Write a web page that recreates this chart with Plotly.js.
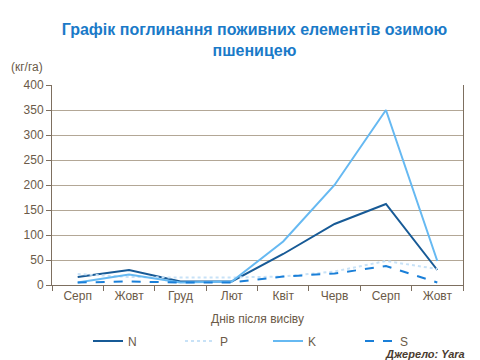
<!DOCTYPE html>
<html>
<head>
<meta charset="utf-8">
<script src="https://cdn.plot.ly/plotly-3.0.1.min.js"></script>
<style>html,body{margin:0;padding:0;background:#fff;}#chart{width:480px;height:360px;}</style>
</head>
<body>
<div id="chart"></div>
<script>
const months = ["Серп", "Жовт", "Груд", "Лют", "Квіт", "Черв", "Серп", "Жовт"];
const nValues = [16, 30, 7, 7, 62, 122, 162, 30];
const pValues = [22, 16, 15, 15, 17, 27, 48, 32];
const kValues = [5, 21, 5, 7, 87, 200, 350, 48];
const sValues = [5, 7, 5, 5, 17, 23, 38, 5];
const yTicks = [0, 50, 100, 150, 200, 250, 300, 350, 400];

const idx = months.map((m, i) => i);
const brown = '#6b5a48';
const font = 'Liberation Sans, Arial, sans-serif';

const traces = [
  {name: 'N', legend: 'legend', y: nValues, line: {color: '#175a96', width: 2, dash: 'solid'}},
  {name: 'P', legend: 'legend2', y: pValues, line: {color: '#c8e2f7', width: 2, dash: 'dot'}},
  {name: 'K', legend: 'legend3', y: kValues, line: {color: '#66b9f2', width: 2, dash: 'solid'}},
  {name: 'S', legend: 'legend4', y: sValues, line: {color: '#1a7fd8', width: 2, dash: 'dash'}}
].map(t => Object.assign({x: idx, type: 'scatter', mode: 'lines', hoverinfo: 'skip'}, t));

function leg(px) {
  return {
    orientation: 'h', x: px / 480, xanchor: 'left', xref: 'container',
    y: 0.053, yanchor: 'middle', yref: 'container',
    font: {size: 12, color: brown}, bgcolor: 'rgba(0,0,0,0)'
  };
}

const layout = {
  width: 480, height: 360,
  margin: {l: 52, r: 17, t: 85, b: 75, autoexpand: false},
  paper_bgcolor: '#fff', plot_bgcolor: '#fff',
  font: {family: font, size: 12, color: brown},
  title: {
    text: 'Графік поглинання поживних елементів озимою<br>пшеницею',
    font: {family: font, size: 16, color: '#1a7ac8', weight: 'bold'},
    x: 0.53, xanchor: 'center', y: 0.902, yanchor: 'top'
  },
  xaxis: {
    range: [-0.5, 7.5],
    tickmode: 'array', tickvals: idx, ticktext: months,
    ticks: '', showgrid: false, zeroline: false,
    showline: true, linecolor: '#7d6f60', linewidth: 1,
    minor: {ticks: 'outside', tick0: -0.5, dtick: 1, ticklen: 5, tickcolor: '#7d6f60', showgrid: false},
    tickfont: {size: 12, color: brown},
    title: {text: 'Днів після висіву', font: {size: 12, color: brown}, standoff: 14},
    fixedrange: true
  },
  yaxis: {
    range: [0, 400],
    tickmode: 'array', tickvals: yTicks,
    ticks: 'outside', ticklen: 5, tickcolor: '#7d6f60',
    showgrid: true, gridcolor: '#b3a796', gridwidth: 1,
    zeroline: false,
    showline: true, linecolor: '#7d6f60', linewidth: 1, mirror: true,
    tickfont: {size: 12, color: brown},
    fixedrange: true
  },
  showlegend: true,
  legend: leg(88),
  legend2: leg(180),
  legend3: leg(268),
  legend4: leg(360),
  annotations: [
    {text: '(кг/га)', xref: 'paper', yref: 'paper', x: -0.105, y: 1.09, xanchor: 'left', yanchor: 'middle',
     showarrow: false, font: {size: 12, color: brown}},
    {text: '<i><b>Джерело: Yara</b></i>', xref: 'paper', yref: 'paper', x: 1.01, y: -0.345, xanchor: 'right', yanchor: 'middle',
     showarrow: false, font: {size: 11, color: '#4a3c30'}}
  ]
};

Plotly.newPlot('chart', traces, layout, {displayModeBar: false, staticPlot: true});
</script>
</body>
</html>
